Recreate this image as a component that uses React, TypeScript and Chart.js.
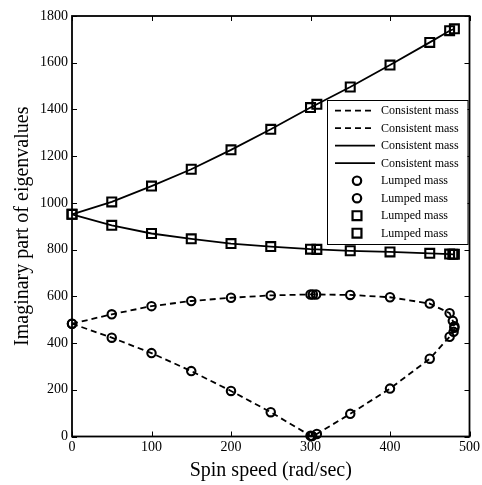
import React, { useEffect, useRef } from 'react';
import { Chart, registerables } from 'chart.js';

Chart.register(...registerables);

// ---- axis ticks ----
const xTickValues = [0, 100, 200, 300, 400, 500];
const yTickValues = [0, 200, 400, 600, 800, 1000, 1200, 1400, 1600, 1800];

// ---- series (spin speed in rad/sec, imaginary part of eigenvalues) ----
// lower branch of the circle mode (falls to zero near 300 rad/sec and rises again)
const circleLowerX = [0, 50, 100, 150, 200, 250, 300, 302, 308, 350, 400, 450, 475, 480, 481];
const circleLowerY = [483, 423, 357, 280, 195, 104, 3, 2, 11, 97, 205, 333, 427, 448, 465];
// upper branch of the circle mode
const circleUpperX = [0, 50, 100, 150, 200, 250, 300, 303, 307, 350, 400, 450, 475, 479, 481];
const circleUpperY = [483, 523, 558, 580, 594, 604, 608, 608, 608, 606, 596, 569, 528, 495, 472];
// rising branch of the square mode
const squareUpperX = [0, 50, 100, 150, 200, 250, 300, 308, 350, 400, 450, 475, 481];
const squareUpperY = [951, 1004, 1072, 1144, 1227, 1315, 1408, 1422, 1496, 1590, 1687, 1737, 1745];
// falling branch of the square mode
const squareLowerX = [0, 50, 100, 150, 200, 250, 300, 308, 350, 400, 450, 475, 479, 481];
const squareLowerY = [951, 904, 869, 846, 826, 813, 802, 801, 795, 790, 784, 781, 780, 780];

const consistentLabel = 'Consistent mass';
const lumpedLabel = 'Lumped mass';

const toPoints = (xs: number[], ys: number[]) => xs.map((x, i) => ({ x, y: ys[i] }));

const SERIF = '"Liberation Serif", "DejaVu Serif", serif';

const framePlugin = {
  id: 'frameAndLegend',
  afterDraw(chart: any) {
    const { ctx, chartArea, scales } = chart;
    const { left, right, top, bottom } = chartArea;
    const xs = scales.x;
    const ys = scales.y;
    ctx.save();
    ctx.strokeStyle = '#000';
    ctx.lineWidth = 1.8;
    ctx.setLineDash([]);
    ctx.strokeRect(left, top, right - left, bottom - top);
    ctx.lineWidth = 1;
    const tl = 5;
    ctx.beginPath();
    for (const v of xTickValues) {
      const px = Math.round(xs.getPixelForValue(v)) + 0.5;
      ctx.moveTo(px, bottom);
      ctx.lineTo(px, bottom - tl);
      ctx.moveTo(px, top);
      ctx.lineTo(px, top + tl);
    }
    for (const v of yTickValues) {
      const py = Math.round(ys.getPixelForValue(v)) + 0.5;
      ctx.moveTo(left, py);
      ctx.lineTo(left + tl, py);
      ctx.moveTo(right, py);
      ctx.lineTo(right - tl, py);
    }
    ctx.stroke();

    // legend box inside plot, upper right
    const boxL = 327;
    const boxR = right - 2;
    const boxT = 100;
    const boxB = 244;
    ctx.fillStyle = '#fff';
    ctx.fillRect(boxL, boxT, boxR - boxL, boxB - boxT);
    ctx.lineWidth = 1;
    ctx.strokeStyle = '#000';
    ctx.strokeRect(boxL + 0.5, boxT + 0.5, boxR - boxL, boxB - boxT);

    const rowStart = 110.7;
    const rowStep = 17.5;
    const sampleL = 335;
    const sampleR = 375;
    const textX = 381;
    ctx.font = `12px ${SERIF}`;
    ctx.textBaseline = 'middle';
    ctx.textAlign = 'left';
    chart.data.datasets.forEach((ds: any, i: number) => {
      const y = rowStart + i * rowStep;
      ctx.strokeStyle = '#000';
      if (ds.showLine) {
        ctx.lineWidth = ds.borderWidth;
        ctx.setLineDash(ds.borderDash || []);
        ctx.beginPath();
        ctx.moveTo(sampleL, y);
        ctx.lineTo(sampleR, y);
        ctx.stroke();
        ctx.setLineDash([]);
      } else {
        const cx = (sampleL + sampleR) / 2 + 2;
        ctx.lineWidth = 2.2;
        ctx.beginPath();
        if (ds.pointStyle === 'rect') {
          const s = ds.pointRadius * Math.SQRT1_2;
          ctx.rect(cx - s, y - s, 2 * s, 2 * s);
        } else {
          ctx.arc(cx, y, ds.pointRadius, 0, Math.PI * 2);
        }
        ctx.stroke();
      }
      ctx.fillStyle = '#000';
      ctx.fillText(ds.label, textX, y + 0.5);
    });
    ctx.restore();
  },
};

export default function App() {
  const canvasRef = useRef<HTMLCanvasElement | null>(null);

  useEffect(() => {
    document.body.style.margin = '0';
    const canvas = canvasRef.current;
    if (!canvas) return;

    const lineBase = {
      showLine: true,
      pointRadius: 0,
      pointHoverRadius: 0,
      borderColor: '#000',
      backgroundColor: '#000',
      borderWidth: 1.8,
      tension: 0,
      clip: false as any,
    };
    const markerBase = {
      showLine: false,
      borderColor: '#000',
      backgroundColor: 'rgba(0,0,0,0)',
      pointBorderColor: '#000',
      pointBackgroundColor: 'rgba(0,0,0,0)',
      pointBorderWidth: 2.1,
      clip: false as any,
    };

    const chart = new Chart(canvas, {
      type: 'scatter',
      data: {
        datasets: [
          { ...lineBase, label: consistentLabel, data: toPoints(circleLowerX, circleLowerY), borderDash: [6, 4] },
          { ...lineBase, label: consistentLabel, data: toPoints(circleUpperX, circleUpperY), borderDash: [6, 4] },
          { ...lineBase, label: consistentLabel, data: toPoints(squareUpperX, squareUpperY) },
          { ...lineBase, label: consistentLabel, data: toPoints(squareLowerX, squareLowerY) },
          { ...markerBase, label: lumpedLabel, data: toPoints(circleLowerX, circleLowerY), pointStyle: 'circle', pointRadius: 4.2 },
          { ...markerBase, label: lumpedLabel, data: toPoints(circleUpperX, circleUpperY), pointStyle: 'circle', pointRadius: 4.2 },
          { ...markerBase, label: lumpedLabel, data: toPoints(squareUpperX, squareUpperY), pointStyle: 'rect', pointRadius: 6.3 },
          { ...markerBase, label: lumpedLabel, data: toPoints(squareLowerX, squareLowerY), pointStyle: 'rect', pointRadius: 6.3 },
        ] as any,
      },
      options: {
        animation: false,
        responsive: false,
        maintainAspectRatio: false,
        events: [],
        layout: { padding: { top: 16, right: 12, bottom: 0, left: 0 } },
        plugins: {
          legend: { display: false },
          tooltip: { enabled: false },
          title: { display: false },
        },
        scales: {
          x: {
            type: 'linear',
            min: 0,
            max: 500,
            afterFit: (scale: any) => { scale.height = 48.5; },
            afterBuildTicks: (scale: any) => { scale.ticks = xTickValues.map((v) => ({ value: v })); },
            grid: { display: false, drawTicks: false },
            border: { display: false },
            ticks: {
              padding: 2,
              color: '#000',
              font: { family: SERIF, size: 14 },
              maxRotation: 0,
              autoSkip: false,
              callback: (v: any) => String(v),
            },
            title: {
              display: true,
              text: 'Spin speed (rad/sec)',
              color: '#000',
              font: { family: SERIF, size: 20 },
              padding: { top: 0, bottom: 2.5 },
            },
          },
          y: {
            type: 'linear',
            min: 0,
            max: 1800,
            afterFit: (scale: any) => { scale.width = 72; },
            afterBuildTicks: (scale: any) => { scale.ticks = yTickValues.map((v) => ({ value: v })); },
            grid: { display: false, drawTicks: false },
            border: { display: false },
            ticks: {
              padding: 4,
              color: '#000',
              font: { family: SERIF, size: 14 },
              autoSkip: false,
              callback: (v: any) => String(v),
            },
            title: {
              display: true,
              text: 'Imaginary part of eigenvalues',
              color: '#000',
              font: { family: SERIF, size: 20 },
              padding: { top: 11, bottom: 0 },
            },
          },
        },
      } as any,
      plugins: [framePlugin],
    });

    return () => chart.destroy();
  }, []);

  return (
    <div style={{ width: 482, height: 485 }}>
      <canvas ref={canvasRef} width={482} height={485} style={{ display: 'block', width: 482, height: 485 }} />
    </div>
  );
}
